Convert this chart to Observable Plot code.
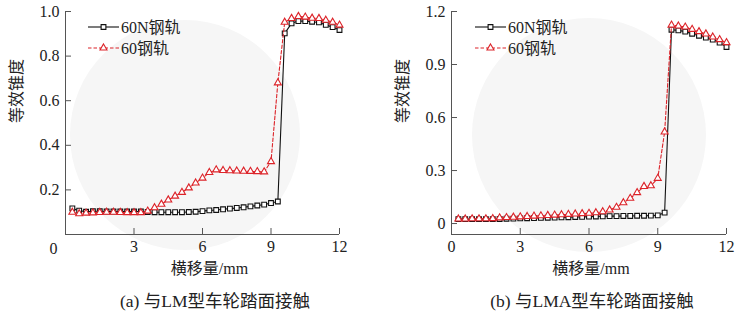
<!DOCTYPE html>
<html>
<head>
<meta charset="utf-8">
<script src="https://cdn.jsdelivr.net/npm/d3@7"></script>
<script src="https://cdn.jsdelivr.net/npm/@observablehq/plot@0.6"></script>
<style>
  html, body { margin: 0; padding: 0; background: #fff; }
  #wrap { position: relative; width: 740px; height: 319px; overflow: hidden; background: #fff;
          font-family: "Liberation Serif", "Times New Roman", "DejaVu Serif", "Noto Sans CJK SC", serif; color: #222; }
  #wrap svg text { font-family: "Liberation Serif", "Times New Roman", "DejaVu Serif", "Noto Sans CJK SC", serif; }
  .panel { position: absolute; top: 0; width: 370px; }
  .wm { position: absolute; border-radius: 50%; background: #f6f6f6; }
  .cap { position: absolute; font-size: 17.5px; white-space: nowrap; transform: translate(-50%, -50%); }
  .leg { position: absolute; top: 0; }
</style>
</head>
<body>
<div id="wrap">
  <div class="wm" style="left:70px;top:20px;width:230px;height:230px"></div>
  <div class="wm" style="left:472px;top:18px;width:234px;height:234px"></div>
  <div class="panel" id="pa" style="left:0"></div>
  <div class="panel" id="pb" style="left:370px"></div>
  <div class="cap" style="left:215px;top:299px">(a) 与LM型车轮踏面接触</div>
  <div class="cap" style="left:592px;top:299px">(b) 与LMA型车轮踏面接触</div>
</div>
<script>
// ---- data ----
const xShift = [0.3,0.6,0.9,1.2,1.5,1.8,2.1,2.4,2.7,3.0,
                3.3,3.6,3.9,4.2,4.5,4.8,5.1,5.4,5.7,6.0,
                6.3,6.6,6.9,7.2,7.5,7.8,8.1,8.4,8.7,9.0,
                9.3,9.6,9.9,10.2,10.5,10.8,11.1,11.4,11.7,12.0];
const seriesNames = ["60N钢轨", "60钢轨"];
// (a) LM wheel tread
const a60N = [0.117,0.107,0.102,0.104,0.104,0.103,0.103,0.103,0.103,0.103,
              0.103,0.101,0.100,0.100,0.100,0.100,0.100,0.101,0.102,0.105,
              0.108,0.110,0.113,0.116,0.119,0.122,0.126,0.130,0.134,0.141,
              0.148,0.902,0.947,0.957,0.957,0.954,0.951,0.940,0.930,0.917];
const a60  = [0.100,0.093,0.096,0.097,0.099,0.100,0.100,0.099,0.098,0.098,
              0.098,0.105,0.120,0.136,0.155,0.172,0.189,0.209,0.231,0.253,
              0.278,0.290,0.287,0.286,0.285,0.284,0.283,0.282,0.281,0.327,
              0.680,0.952,0.969,0.978,0.975,0.970,0.969,0.961,0.952,0.939];
// (b) LMA wheel tread
const b60N = [0.025,0.025,0.025,0.025,0.025,0.025,0.026,0.027,0.028,0.029,
              0.030,0.031,0.032,0.033,0.034,0.035,0.036,0.037,0.038,0.039,
              0.040,0.041,0.042,0.042,0.043,0.043,0.044,0.044,0.045,0.046,
              0.062,1.097,1.093,1.086,1.074,1.063,1.052,1.041,1.024,0.999];
const b60  = [0.026,0.026,0.027,0.027,0.027,0.028,0.032,0.034,0.036,0.038,
              0.040,0.042,0.044,0.046,0.048,0.050,0.052,0.054,0.056,0.058,
              0.061,0.067,0.077,0.092,0.118,0.143,0.175,0.210,0.214,0.256,
              0.518,1.123,1.118,1.112,1.099,1.086,1.073,1.056,1.041,1.024];
const xTicksA = [3, 6, 9, 12];
const xTicksB = [0, 3, 6, 9, 12];
const yTicksA = [0.2, 0.4, 0.6, 0.8, 1.0];
const yTicksB = [0, 0.3, 0.6, 0.9, 1.2];
const xLabel = "横移量/mm";
const yLabel = "等效锥度";

const BLACK = "#111";
const RED = "#dc2329";
const AX = "#555";
const FONT = '"Liberation Serif", "Times New Roman", "DejaVu Serif", "Noto Sans CJK SC", serif';

function rows(ys) { return xShift.map((x, i) => ({x, y: ys[i]})); }

function panel({s1, s2, yDomain, yTicks, xTicks, yFmt, ml, mr, zeroCorner, xlabDx}) {
  const H = 290, mt = 11, mb = 56;
  const fw = 370 - ml - mr, fh = H - mt - mb;
  const d1 = rows(s1), d2 = rows(s2);
  const marks = [
    Plot.ruleX([0], {stroke: AX, strokeWidth: 1}),
    Plot.ruleY([yDomain[0]], {stroke: AX, strokeWidth: 1}),
    Plot.tickY(yTicks, {y: d => d, stroke: AX, insetRight: fw - 6}),
    Plot.tickX(xTicks.filter(d => d > 0), {x: d => d, stroke: AX, insetTop: fh - 6}),
    Plot.axisY(yTicks, {tickSize: 0, tickPadding: 6, tickFormat: yFmt, fontSize: 16, fill: "#222", label: null, fontFamily: FONT}),
    Plot.axisX(xTicks, {tickSize: 0, tickPadding: 6, tickFormat: d => String(d), fontSize: 16, fill: "#222", label: null, fontFamily: FONT}),
    Plot.text([yLabel], {frameAnchor: "left", dx: -49, rotate: -90, fontSize: 16, fill: "#222", fontFamily: FONT}),
    Plot.text([xLabel], {frameAnchor: "bottom", dy: 39, dx: xlabDx, fontSize: 16, fill: "#222", fontFamily: FONT}),
    Plot.line(d1, {x: "x", y: "y", stroke: BLACK, strokeWidth: 1.1}),
    Plot.dot(d1, {x: "x", y: "y", symbol: "square", r: 2.7, fill: "white", stroke: BLACK, strokeWidth: 1.1}),
    Plot.line(d2, {x: "x", y: "y", stroke: RED, strokeWidth: 1.1, strokeDasharray: "3.5,2"}),
    Plot.dot(d2, {x: "x", y: "y", symbol: "triangle", r: 2.6, fill: "white", stroke: RED, strokeWidth: 1.1})
  ];
  if (zeroCorner) marks.push(Plot.text([0], {x: 0, y: yDomain[0], text: d => "0", dx: -12, dy: 14, fontSize: 16, fill: "#222", fontFamily: FONT}));
  return Plot.plot({
    width: 370, height: H,
    marginLeft: ml, marginRight: mr, marginTop: mt, marginBottom: mb,
    style: {background: "transparent", fontFamily: FONT, overflow: "visible"},
    x: {domain: [0, 12]},
    y: {domain: yDomain},
    marks
  });
}

document.getElementById("pa").appendChild(panel({
  s1: a60N, s2: a60, yDomain: [0, 1.0], yTicks: yTicksA, xTicks: xTicksA,
  yFmt: d => d.toFixed(1), ml: 65, mr: 31, zeroCorner: true, xlabDx: 7
}));
document.getElementById("pb").appendChild(panel({
  s1: b60N, s2: b60, yDomain: [-0.062, 1.2], yTicks: yTicksB, xTicks: xTicksB,
  yFmt: d => d === 0 ? "0" : d.toFixed(1), ml: 81, mr: 14, zeroCorner: false, xlabDx: 2
}));

// legends
function legend(left) {
  const ns = "http://www.w3.org/2000/svg";
  const svg = document.createElementNS(ns, "svg");
  svg.setAttribute("width", 120); svg.setAttribute("height", 60);
  svg.setAttribute("class", "leg");
  svg.style.left = left + "px";
  const items = [
    {name: seriesNames[0], color: BLACK, dash: null, sym: d3.symbolSquare, y: 27},
    {name: seriesNames[1], color: RED, dash: "3.5,2", sym: d3.symbolTriangle, y: 48}
  ];
  for (const it of items) {
    const l = document.createElementNS(ns, "line");
    l.setAttribute("x1", 0); l.setAttribute("x2", 31);
    l.setAttribute("y1", it.y); l.setAttribute("y2", it.y);
    l.setAttribute("stroke", it.color); l.setAttribute("stroke-width", 1.1);
    if (it.dash) l.setAttribute("stroke-dasharray", it.dash);
    svg.appendChild(l);
    const p = document.createElementNS(ns, "path");
    p.setAttribute("d", d3.symbol(it.sym, Math.PI * (it.sym === d3.symbolSquare ? 2.7 : 2.6) ** 2)());
    p.setAttribute("transform", `translate(15.5,${it.y})`);
    p.setAttribute("fill", "white"); p.setAttribute("stroke", it.color); p.setAttribute("stroke-width", 1.1);
    svg.appendChild(p);
    const t = document.createElementNS(ns, "text");
    t.setAttribute("x", 33); t.setAttribute("y", it.y);
    t.setAttribute("dy", "0.35em");
    t.setAttribute("font-size", 16); t.setAttribute("fill", "#222");
    t.textContent = it.name;
    svg.appendChild(t);
  }
  document.getElementById("wrap").appendChild(svg);
}
legend(88);
legend(475);
</script>
</body>
</html>
